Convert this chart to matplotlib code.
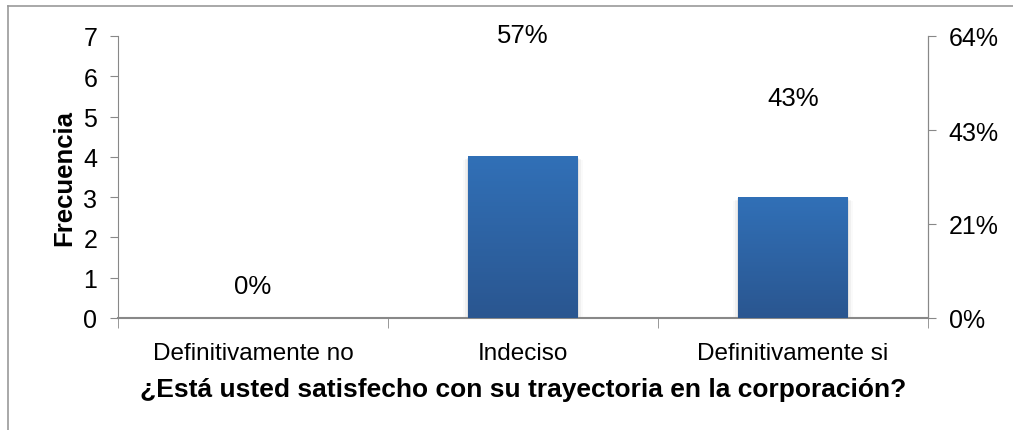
import matplotlib
matplotlib.use("Agg")
import matplotlib.pyplot as plt
from matplotlib.colors import LinearSegmentedColormap
from matplotlib.lines import Line2D
import numpy as np

plt.rcParams['font.family'] = ['Liberation Sans', 'DejaVu Sans']

categories = ["Definitivamente no", "Indeciso", "Definitivamente si"]
frecuencia = [0, 4, 3]
porcentaje = [0.0, 0.5714, 0.4286]
pct_labels = ["0%", "57%", "43%"]
right_ticks = [0, 1.5 / 7, 3 / 7, 4.5 / 7]
right_labels = ["0%", "21%", "43%", "64%"]

fig = plt.figure(figsize=(10.13, 4.31), dpi=100)
ax = fig.add_axes([118 / 1013, 112 / 431, 810 / 1013, 282 / 431])

x = np.arange(len(categories))
bars = ax.bar(x, frecuencia, width=0.405, color="none", zorder=3)

# gradient fill + soft shadow for each bar
cmap = LinearSegmentedColormap.from_list("blu", ["#2a5690", "#3170b7"])
grad = np.linspace(0, 1, 256).reshape(-1, 1)
for b in bars:
    h = b.get_height()
    if h <= 0:
        continue
    x0, w = b.get_x(), b.get_width()
    for k, a in enumerate([0.06, 0.04, 0.02]):
        ax.add_patch(plt.Rectangle((x0 - 0.006 * (k + 1), -0.03 * (k + 1)), w + 0.012 * (k + 1), h,
                                   color="black", alpha=a, lw=0, zorder=2))
    ax.imshow(grad, extent=[x0, x0 + w, 0, h], origin="lower", aspect="auto",
              cmap=cmap, zorder=3)

ax.set_xlim(-0.5, 2.5)
ax.set_ylim(0, 7)
ax.set_yticks(range(8))
ax.set_xticks(x)
ax.set_xticklabels(categories, fontsize=17.5)
ax.set_xticks([-0.5, 0.5, 1.5, 2.5], minor=True)
ax.tick_params(axis="x", which="major", length=0, pad=17)
ax.tick_params(axis="x", which="minor", length=7, color="#888888", direction="out")
ax.tick_params(axis="y", length=6, color="#888888", labelsize=18, pad=9)
ax.spines["top"].set_visible(False)
for s in ["left", "right", "bottom"]:
    ax.spines[s].set_color("#888888")
ax.spines["bottom"].set_linewidth(1.5)
ax.set_ylabel("Frecuencia", fontsize=18.5, fontweight="bold", labelpad=5)
ax.set_xlabel("¿Está usted satisfecho con su trayectoria en la corporación?",
              fontsize=19, fontweight="bold", labelpad=10)

ax2 = ax.twinx()
ax2.set_ylim(0, 4.5 / 7)
ax2.set_yticks(right_ticks)
ax2.set_yticklabels(right_labels)
ax2.tick_params(axis="y", length=6, color="#888888", labelsize=18, pad=9)
for s in ["top", "left", "bottom"]:
    ax2.spines[s].set_visible(False)
ax2.spines["right"].set_color("#888888")
ax2.plot(x, porcentaje, alpha=0)
for xi, p, lab in zip(x, porcentaje, pct_labels):
    ax2.annotate(lab, (xi, p), xytext=(0, 23), textcoords="offset points",
                 ha="center", va="center", fontsize=18.5)

# outer chart frame (top and left edges visible)
fig.add_artist(Line2D([8 / 1013, 8 / 1013], [0, 1 - 7 / 431], color="#999999", lw=1.2))
fig.add_artist(Line2D([8 / 1013, 1], [1 - 7 / 431, 1 - 7 / 431], color="#999999", lw=1.2))

fig.savefig("out.png", dpi=100)
